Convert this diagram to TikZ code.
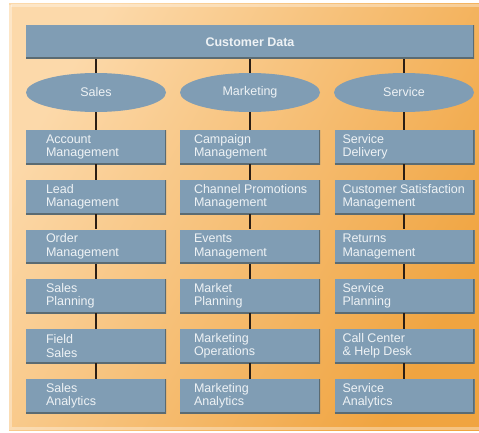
\documentclass[tikz,border=0pt]{standalone}
\usepackage{fontspec}
\setmainfont{Liberation Sans}
\usetikzlibrary{shapes.geometric,calc}
\definecolor{boxblue}{HTML}{809DB4}
\definecolor{edgec}{HTML}{5B6B72}
\definecolor{txtc}{HTML}{EEF2F5}
\definecolor{orlight}{HTML}{FCD9AA}
\definecolor{ordark}{HTML}{F0A440}
\definecolor{linec}{HTML}{2B1E14}
\tikzset{
  box/.style={rectangle, fill=boxblue, minimum width=140pt, minimum height=34pt, inner sep=0pt,
    path picture={\draw[line width=3pt, edgec] (path picture bounding box.south west) -- (path picture bounding box.south east) -- (path picture bounding box.north east);}},
  bar/.style={box, minimum width=448pt, text=txtc, font=\bfseries\fontsize{12.5}{14}\selectfont},
  oval/.style={ellipse, fill=boxblue, minimum width=140pt, minimum height=39pt, inner sep=0pt, text=txtc, font=\fontsize{12.5}{14}\selectfont},
  lbl/.style={anchor=west, align=left, inner sep=0pt, text=txtc, font=\fontsize{12.5}{13.5}\selectfont},
  conn/.style={line width=2.2pt, linec},
}
\newcommand\cellbox[5]{\node[box] (#1) at (#2,#3) {}; \node[lbl] (#1t) at ([xshift=#4pt]#1.west) {#5};}
\begin{document}
\begin{tikzpicture}[x=1pt,y=-1pt]
\useasboundingbox (0,0) rectangle (479,433);
\fill[white] (0,0) rectangle (479,433);
\fill[left color=orlight, right color=ordark, shading angle=60] (9,4) rectangle (479,430);
\draw[white, opacity=0.35, line width=3pt] (10.5,5.5) -- (10.5,428.5) -- (479,428.5);
\draw[white, opacity=0.35, line width=3pt] (10.5,5.5) -- (479,5.5);

\node[bar] (cd) at (250,42) {Customer Data};
\node[oval] (e1) at (96,92.5) {Sales};
\node[oval] (e2) at (250,92.5) {Marketing};
\node[oval] (e3) at (404,92.5) {Service};

% Sales column
\cellbox{a1}{96}{147}{20}{Account\\Management}
\cellbox{a2}{96}{197}{20}{Lead\\Management}
\cellbox{a3}{96}{246.5}{20}{Order\\Management}
\cellbox{a4}{96}{296}{20}{Sales\\Planning}
\cellbox{a5}{96}{346}{20}{Field\\Sales}
\cellbox{a6}{96}{396}{20}{Sales\\Analytics}
% Marketing column
\cellbox{b1}{250}{147}{14}{Campaign\\Management}
\cellbox{b2}{250}{197}{14}{Channel Promotions\\Management}
\cellbox{b3}{250}{246.5}{14}{Events\\Management}
\cellbox{b4}{250}{296}{14}{Market\\Planning}
\cellbox{b5}{250}{346}{14}{Marketing\\Operations}
\cellbox{b6}{250}{396}{14}{Marketing\\Analytics}
% Service column
\cellbox{c1}{404.5}{147}{8}{Service\\Delivery}
\cellbox{c2}{404.5}{197}{8}{Customer Satisfaction\\Management}
\cellbox{c3}{404.5}{246.5}{8}{Returns\\Management}
\cellbox{c4}{404.5}{296}{8}{Service\\Planning}
\cellbox{c5}{404.5}{346}{8}{Call Center\\\& Help Desk}
\cellbox{c6}{404.5}{396}{8}{Service\\Analytics}

\foreach \col/\e in {a/e1,b/e2,c/e3}{
  \draw[conn] (cd.south -| \e.north) -- (\e.north);
  \draw[conn] (\e.south) -- (\col1.north -| \e.south);
  \foreach \i [evaluate=\i as \j using int(\i+1)] in {1,...,5}{
    \draw[conn] (\col\i.south -| \e.south) -- (\col\j.north -| \e.south);
  }
}
\end{tikzpicture}
\end{document}
